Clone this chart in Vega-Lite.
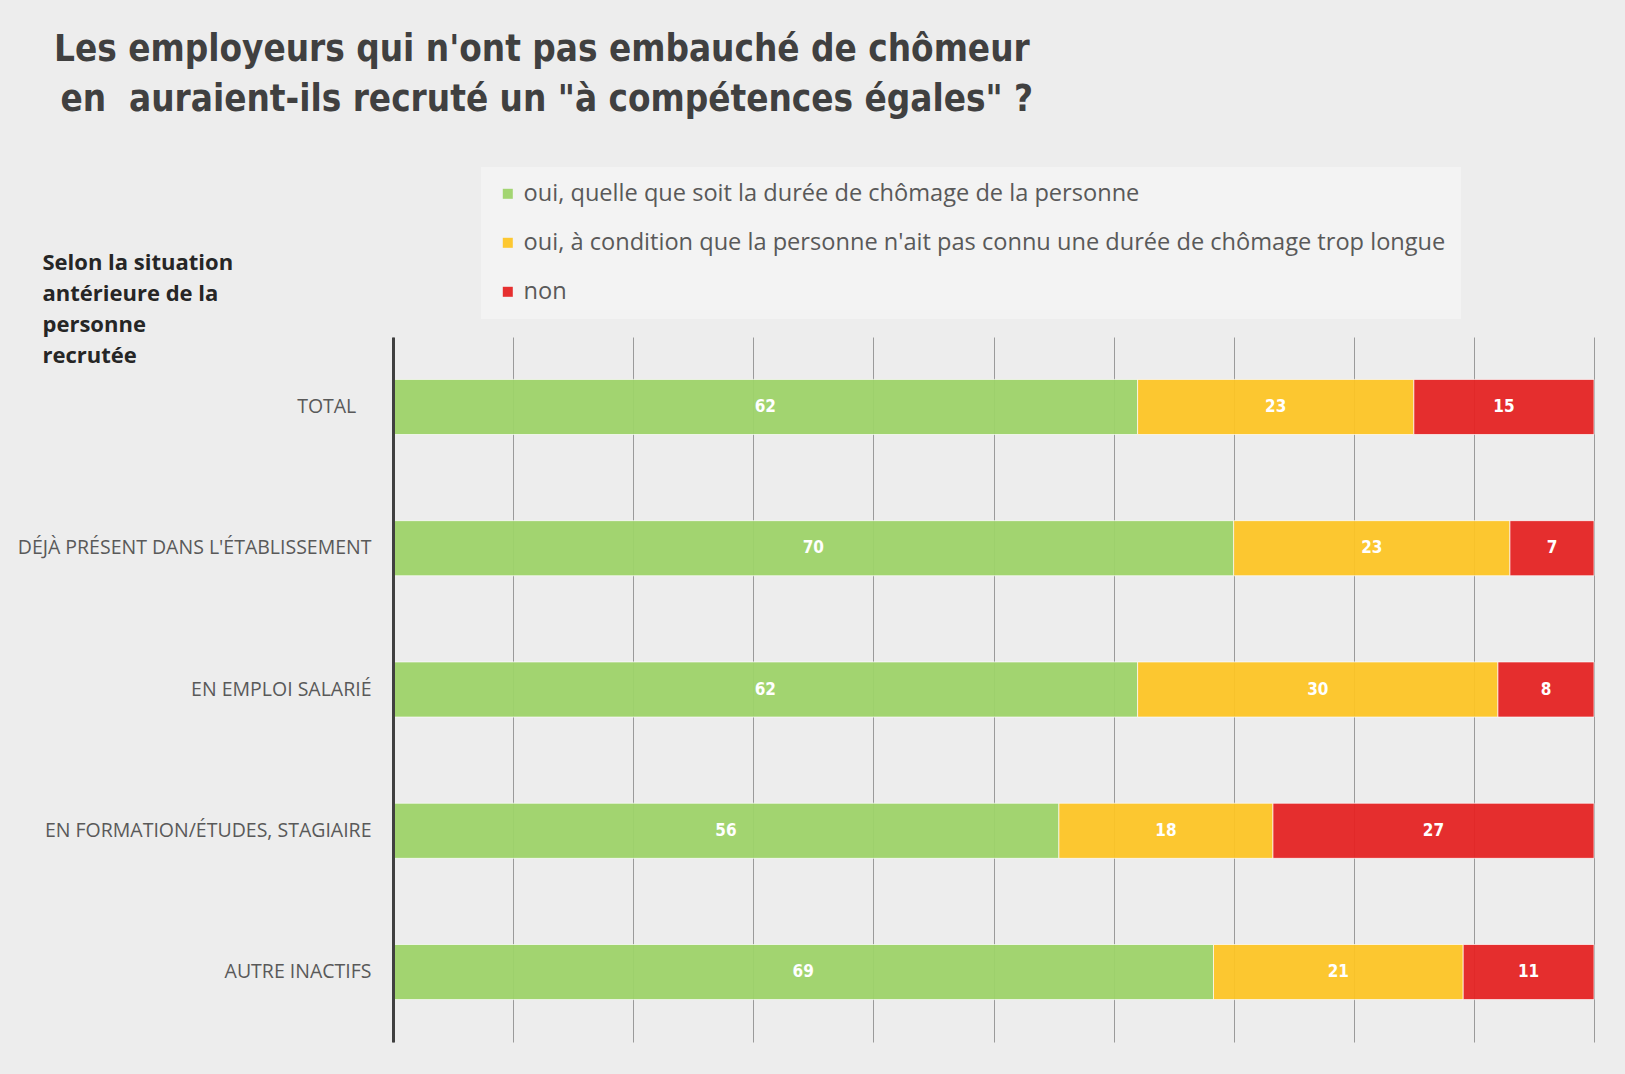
{
  "$schema": "https://vega.github.io/schema/vega-lite/v6.json",
  "autosize": "none",
  "width": 1201,
  "height": 705,
  "padding": {"left": 393, "top": 337, "right": 31, "bottom": 32},
  "background": "#ededed",
  "title": {
    "text": ["Les employeurs qui n'ont pas embauché de chômeur", "\u200b\u2009en\u00a0 auraient-ils recruté un \"à compétences égales\" ?"],
    "anchor": "start",
    "frame": "group",
    "dx": -339,
    "font": "DejaVu Sans Condensed, sans-serif",
    "fontSize": 36.5,
    "fontWeight": "bold",
    "color": "#404040",
    "lineHeight": 50,
    "baseline": "alphabetic",
    "offset": 20
  },
  "data": {
    "values": [
      {"situation": "TOTAL", "reponse": "oui, quelle que soit la durée de chômage de la personne", "valeur": 62, "rang": 1},
      {"situation": "TOTAL", "reponse": "oui, à condition que la personne n'ait pas connu une durée de chômage trop longue", "valeur": 23, "rang": 2},
      {"situation": "TOTAL", "reponse": "non", "valeur": 15, "rang": 3},
      {"situation": "DÉJÀ PRÉSENT DANS L'ÉTABLISSEMENT", "reponse": "oui, quelle que soit la durée de chômage de la personne", "valeur": 70, "rang": 1},
      {"situation": "DÉJÀ PRÉSENT DANS L'ÉTABLISSEMENT", "reponse": "oui, à condition que la personne n'ait pas connu une durée de chômage trop longue", "valeur": 23, "rang": 2},
      {"situation": "DÉJÀ PRÉSENT DANS L'ÉTABLISSEMENT", "reponse": "non", "valeur": 7, "rang": 3},
      {"situation": "EN EMPLOI SALARIÉ", "reponse": "oui, quelle que soit la durée de chômage de la personne", "valeur": 62, "rang": 1},
      {"situation": "EN EMPLOI SALARIÉ", "reponse": "oui, à condition que la personne n'ait pas connu une durée de chômage trop longue", "valeur": 30, "rang": 2},
      {"situation": "EN EMPLOI SALARIÉ", "reponse": "non", "valeur": 8, "rang": 3},
      {"situation": "EN FORMATION/ÉTUDES, STAGIAIRE", "reponse": "oui, quelle que soit la durée de chômage de la personne", "valeur": 56, "rang": 1},
      {"situation": "EN FORMATION/ÉTUDES, STAGIAIRE", "reponse": "oui, à condition que la personne n'ait pas connu une durée de chômage trop longue", "valeur": 18, "rang": 2},
      {"situation": "EN FORMATION/ÉTUDES, STAGIAIRE", "reponse": "non", "valeur": 27, "rang": 3},
      {"situation": "AUTRE INACTIFS", "reponse": "oui, quelle que soit la durée de chômage de la personne", "valeur": 69, "rang": 1},
      {"situation": "AUTRE INACTIFS", "reponse": "oui, à condition que la personne n'ait pas connu une durée de chômage trop longue", "valeur": 21, "rang": 2},
      {"situation": "AUTRE INACTIFS", "reponse": "non", "valeur": 11, "rang": 3}
    ]
  },
  "encoding": {
    "y": {
      "field": "situation",
      "type": "nominal",
      "sort": null,
      "scale": {"paddingInner": 0.61, "paddingOuter": 0.3},
      "axis": {
        "title": ["Selon la situation", "antérieure de la", "personne", "recrutée"],
        "titleAngle": 0,
        "titleAlign": "left",
        "titleBaseline": "middle",
        "titleX": -351,
        "titleY": -75,
        "titleLineHeight": 31.3,
        "titleFont": "Open Sans",
        "titleFontSize": 22,
        "titleFontWeight": "bold",
        "titleColor": "#262626",
        "labelFont": "Open Sans",
        "labelFontSize": 19.5,
        "labelColor": "#595959",
        "labelPadding": 22,
        "labelLimit": 400,
        "labelExpr": "datum.value == 'TOTAL' ? 'TOTAL\u00a0\u00a0\u00a0\u200b' : datum.value",
        "ticks": false,
        "tickSize": 0,
        "domainColor": "#404040",
        "domainWidth": 3,
        "zindex": 2
      }
    },
    "x": {
      "field": "valeur",
      "type": "quantitative",
      "stack": "normalize",
      "axis": {
        "title": null,
        "labels": false,
        "ticks": false,
        "domain": false,
        "grid": true,
        "gridColor": "#9a9a9a",
        "gridWidth": 1,
        "values": [0, 0.1, 0.2, 0.3, 0.4, 0.5, 0.6, 0.7, 0.8, 0.9, 1]
      }
    },
    "order": {"field": "rang", "type": "quantitative"}
  },
  "layer": [
    {
      "mark": {"type": "bar", "opacity": 0.95, "stroke": "#ffffff", "strokeWidth": 1, "strokeOpacity": 0.7},
      "encoding": {
        "color": {
          "field": "reponse",
          "type": "nominal",
          "scale": {
            "domain": ["oui, quelle que soit la durée de chômage de la personne", "oui, à condition que la personne n'ait pas connu une durée de chômage trop longue", "non"],
            "range": ["#9ed36a", "#fdc526", "#e52424"]
          },
          "legend": {
            "title": null,
            "orient": "none",
            "legendX": 88,
            "legendY": -170,
            "direction": "vertical",
            "symbolType": "square",
            "symbolSize": 100,
            "symbolStrokeWidth": 0,
            "labelFont": "Open Sans",
            "labelFontSize": 23.6,
            "labelColor": "#595959",
            "labelLimit": 1100,
            "labelOffset": 4,
            "rowPadding": 24,
            "padding": 15,
            "fillColor": "#f3f3f3"
          }
        }
      }
    },
    {
      "mark": {"type": "text", "color": "#ffffff", "font": "DejaVu Sans Condensed, sans-serif", "fontWeight": "bold", "fontSize": 17, "baseline": "middle"},
      "encoding": {
        "x": {"field": "valeur", "type": "quantitative", "stack": "normalize", "bandPosition": 0.5},
        "text": {"field": "valeur", "type": "quantitative"}
      }
    }
  ],
  "config": {"view": {"stroke": null}}
}
